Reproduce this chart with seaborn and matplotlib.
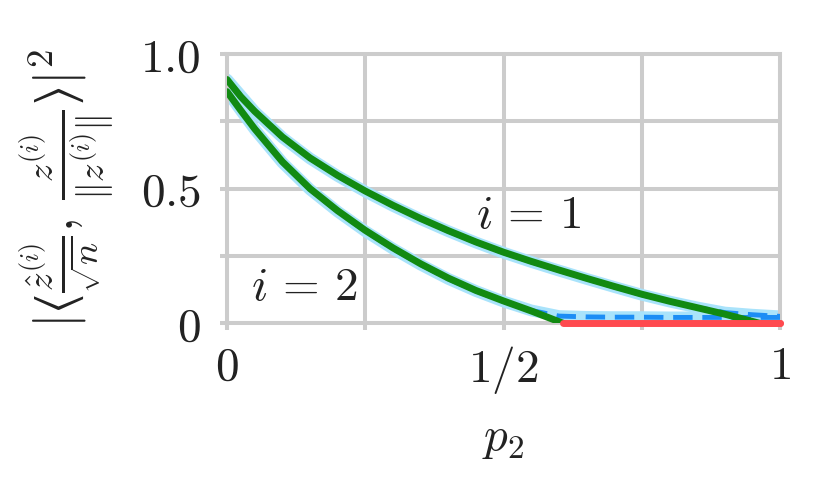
import numpy as np
import pandas as pd
import matplotlib
matplotlib.use("Agg")
import matplotlib.pyplot as plt
import seaborn as sns

# theory curves
x_th1 = [0.0, 0.025, 0.05, 0.1, 0.15, 0.2, 0.25, 0.3, 0.35, 0.4, 0.45, 0.5, 0.55, 0.6,
         0.65, 0.7, 0.75, 0.8, 0.85, 0.9, 0.963]
y_th1 = [0.905, 0.841, 0.787, 0.692, 0.614, 0.549, 0.491, 0.438, 0.389, 0.344, 0.302,
         0.264, 0.23, 0.198, 0.167, 0.137, 0.108, 0.082, 0.058, 0.034, 0.0]
x_th2 = [0.0, 0.025, 0.05, 0.1, 0.15, 0.2, 0.25, 0.3, 0.35, 0.4, 0.45, 0.5, 0.55, 0.608]
y_th2 = [0.86, 0.79, 0.722, 0.60, 0.50, 0.418, 0.345, 0.28, 0.221, 0.168, 0.122, 0.083,
         0.046, 0.0]

# simulation curves
x_sim = [0.0, 0.05, 0.1, 0.15, 0.2, 0.25, 0.3, 0.35, 0.4, 0.45, 0.5, 0.55, 0.6, 0.65,
         0.7, 0.75, 0.8, 0.85, 0.9, 0.95, 1.0]
y_sim1 = [0.905, 0.786, 0.69, 0.612, 0.547, 0.489, 0.436, 0.387, 0.342, 0.300, 0.262,
          0.228, 0.196, 0.165, 0.135, 0.106, 0.081, 0.059, 0.040, 0.032, 0.026]
y_sim2 = [0.86, 0.72, 0.597, 0.497, 0.415, 0.342, 0.277, 0.218, 0.165, 0.12, 0.081,
          0.048, 0.027, 0.024, 0.023, 0.023, 0.022, 0.022, 0.022, 0.022, 0.022]

# zero region (theory above threshold)
x_zero1 = [0.963, 1.0]
x_zero2 = [0.608, 1.0]
y_zero = [0.0, 0.0]

sns.set_style("whitegrid")
plt.rcParams["mathtext.fontset"] = "cm"
plt.rcParams["font.family"] = ["DejaVu Serif"]

fig = plt.figure(figsize=(8.3, 4.99), dpi=100)
ax = fig.add_axes([0.2735, 0.352, 0.6665, 0.540])

band = "#a9e3fb"
dash = "#1c8df5"
green = "#128a12"
red = "#ff4a4f"

for ys in [y_sim1, y_sim2]:
    sns.lineplot(x=x_sim, y=ys, ax=ax, color=band, lw=8.5, sort=False, zorder=2,
                 solid_capstyle="round")
for ys in [y_sim1, y_sim2]:
    sns.lineplot(x=x_sim, y=ys, ax=ax, color=dash, lw=3.5, sort=False, zorder=3,
                 linestyle=(0, (4, 2)))
for xs, ys in [(x_th1, y_th1), (x_th2, y_th2)]:
    sns.lineplot(x=xs, y=ys, ax=ax, color=green, lw=5, sort=False, zorder=4,
                 solid_capstyle="round")
for xs in [x_zero2, x_zero1]:
    sns.lineplot(x=xs, y=y_zero, ax=ax, color=red, lw=5, sort=False, zorder=5,
                 solid_capstyle="round", clip_on=False)

ax.set_xlim(0, 1)
ax.set_ylim(0, 1)
ax.set_xticks([0, 0.25, 0.5, 0.75, 1])
ax.set_xticklabels(["$0$", "", "$1/2$", "", "$1$"])
ax.set_yticks([0, 0.25, 0.5, 0.75, 1])
ax.set_yticklabels(["$0$", "", "$0.5$", "", "$1.0$"])
ax.tick_params(axis="both", which="major", length=5, width=2.9, color="#cccccc",
               labelsize=34, labelcolor="#222222", bottom=True, left=True)
ax.tick_params(axis="x", pad=10)
ax.tick_params(axis="y", pad=14)
ax.grid(True, color="#cccccc", lw=2.9)
for s in ax.spines.values():
    s.set_color("#cccccc")
    s.set_linewidth(2.9)

ax.text(0.545, 0.40, r"$i\,=\,1$", fontsize=34, color="#222222", ha="center", va="center")
ax.text(0.14, 0.135, r"$i\,=\,2$", fontsize=34, color="#222222", ha="center", va="center")

ax.set_xlabel("$p_2$", fontsize=34, color="#222222", labelpad=14)
ax.set_ylabel("$|\u27e8\\frac{\\hat{z}^{(i)}}{\\sqrt{n}},\\, \\frac{z^{(i)}}{\\|z^{(i)}\\|}\u27e9|^2$",
              fontsize=38, color="#222222", labelpad=18)

fig.savefig("out.png", dpi=100)
